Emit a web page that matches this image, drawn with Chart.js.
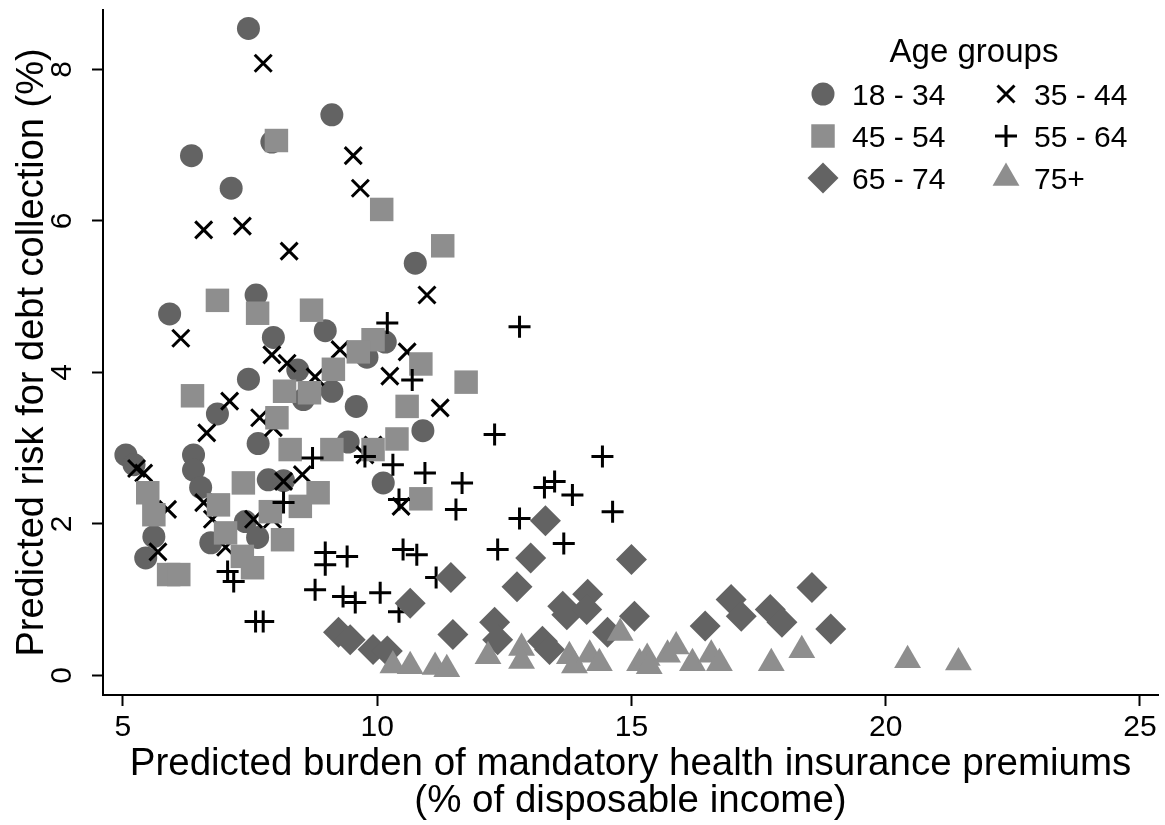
<!DOCTYPE html>
<html>
<head>
<meta charset="utf-8">
<script src="https://cdn.jsdelivr.net/npm/chart.js@4"></script>
<style>
html,body{margin:0;padding:0;background:#fff;}
#wrap{width:1165px;height:825px;}
</style>
</head>
<body>
<div id="wrap"><canvas id="c" width="1165" height="825"></canvas></div>
<script>
// ---- Data (x: premium burden %, y: predicted risk %) ----
const seriesLabels = ['18 - 34', '35 - 44', '45 - 54', '55 - 64', '65 - 74', '75+'];
const xTicks = [5, 10, 15, 20, 25];
const yTicks = [0, 2, 4, 6, 8];

const age18_34 = [
  [7.47,8.54],[9.11,7.40],[6.35,6.86],[7.13,6.43],[7.93,7.04],[10.75,5.44],[5.92,4.77],
  [7.62,5.02],[7.96,4.46],[8.98,4.55],[10.16,4.40],[9.80,4.20],[8.44,4.03],[7.47,3.91],
  [9.11,3.75],[8.55,3.64],[9.59,3.55],[6.86,3.45],[7.66,3.06],[9.43,3.08],[10.90,3.23],
  [5.06,2.91],[5.22,2.78],[6.39,2.91],[6.39,2.71],[6.53,2.48],[7.86,2.58],[8.16,2.57],
  [10.12,2.54],[5.61,1.83],[5.45,1.55],[6.73,1.75],[7.41,2.03],[7.65,1.82]
];
const age35_44 = [
  [7.76,8.08],[9.53,6.86],[9.67,6.43],[6.59,5.88],[7.35,5.93],[8.27,5.60],[10.98,5.02],
  [6.14,4.45],[9.27,4.30],[10.59,4.27],[7.93,4.23],[8.23,4.12],[10.25,3.95],[8.78,3.94],
  [7.10,3.62],[11.24,3.53],[7.69,3.40],[6.65,3.20],[7.96,3.27],[9.92,3.04],[9.76,2.91],
  [8.53,2.65],[8.16,2.56],[5.27,2.73],[5.41,2.67],[6.59,2.28],[5.88,2.19],[7.57,2.06],
  [6.76,2.06],[7.02,1.69],[5.69,1.63],[10.47,2.23],[7.94,2.06]
];
const age45_54 = [
  [8.02,7.06],[10.09,6.15],[11.29,5.67],[6.86,4.95],[7.65,4.78],[8.71,4.82],[9.92,4.43],
  [9.63,4.27],[10.86,4.11],[9.14,4.04],[11.75,3.87],[6.37,3.69],[8.18,3.75],[8.67,3.73],
  [10.59,3.55],[8.03,3.40],[10.39,3.12],[8.29,2.98],[9.11,2.98],[9.92,2.98],[7.37,2.54],
  [5.49,2.41],[5.61,2.12],[6.88,2.25],[7.02,1.88],[7.35,1.57],[7.55,1.42],[5.90,1.33],
  [6.10,1.33],[7.90,2.16],[8.14,1.79],[8.49,2.23],[8.84,2.41],[10.86,2.33]
];
const age55_64 = [
  [10.20,4.65],[12.80,4.60],[10.69,3.90],[12.31,3.18],[8.73,2.87],[9.76,2.89],[10.31,2.78],
  [10.94,2.67],[11.67,2.54],[11.55,2.19],[10.43,2.32],[8.16,2.28],[8.98,1.62],[8.98,1.46],
  [9.41,1.57],[10.51,1.66],[10.78,1.59],[8.78,1.13],[9.33,1.04],[9.57,0.96],[10.06,1.09],
  [10.43,0.84],[11.16,1.29],[12.37,1.66],[12.80,2.07],[13.29,2.48],[13.49,2.56],[13.84,2.38],
  [13.67,1.74],[14.43,2.89],[14.63,2.16],[7.06,1.37],[7.18,1.24],[7.61,0.71],[7.76,0.71]
];
const age65_74 = [
  [9.24,0.57],[9.47,0.47],[9.92,0.34],[10.20,0.32],[10.65,0.95],[11.45,1.29],[11.49,0.54],
  [12.31,0.70],[12.37,0.47],[12.75,1.17],[13.02,1.55],[13.31,2.04],[13.25,0.45],[13.39,0.34],
  [13.65,0.91],[13.73,0.80],[14.14,1.07],[14.12,0.87],[14.53,0.57],[15.00,1.53],[15.06,0.78],
  [16.45,0.65],[16.96,1.00],[17.16,0.78],[17.73,0.87],[17.96,0.70],[18.55,1.16],[18.92,0.61]
];
const age75plus = [
  [10.31,0.13],[10.65,0.12],[11.14,0.11],[11.37,0.08],[12.18,0.25],[12.84,0.36],[12.84,0.19],
  [13.78,0.25],[13.88,0.13],[14.18,0.27],[14.37,0.16],[14.78,0.56],[15.16,0.16],[15.31,0.23],
  [15.35,0.12],[15.71,0.27],[15.88,0.38],[16.20,0.16],[16.57,0.27],[16.73,0.16],[17.75,0.16],
  [18.35,0.33],[20.43,0.20],[21.43,0.17]
];

// ---- Styles ----
const FONT = '"Liberation Sans", Arial, Helvetica, sans-serif';
const DARK = '#636363';
const LIGHT = '#8e8e8e';
const styles = [
  {pointStyle:'circle',   radius:11.5, backgroundColor:DARK,  borderColor:DARK,  borderWidth:0, order:6},
  {pointStyle:'crossRot', radius:12,   backgroundColor:'#000',borderColor:'#000',borderWidth:3, order:5},
  {pointStyle:'rect',     radius:16.6, backgroundColor:LIGHT, borderColor:LIGHT, borderWidth:0, order:4},
  {pointStyle:'cross',    radius:11,   backgroundColor:'#000',borderColor:'#000',borderWidth:3, order:3},
  {pointStyle:'rectRot',  radius:15.5, backgroundColor:DARK,  borderColor:DARK,  borderWidth:0, order:2},
  {pointStyle:'triangle', radius:15.5, backgroundColor:LIGHT, borderColor:LIGHT, borderWidth:0, order:1}
];
const allSeries = [age18_34, age35_44, age45_54, age55_64, age65_74, age75plus];

const datasets = allSeries.map((arr, i) => ({
  label: seriesLabels[i],
  data: arr.map(p => ({x: p[0], y: p[1]})),
  pointStyle: styles[i].pointStyle,
  pointRadius: styles[i].radius,
  pointHoverRadius: styles[i].radius,
  pointBackgroundColor: styles[i].backgroundColor,
  pointBorderColor: styles[i].borderColor,
  pointBorderWidth: styles[i].borderWidth,
  order: styles[i].order,
  showLine: false,
  clip: false
}));

// ---- Custom legend (two columns, inside plot) ----
function marker(ctx, st, x, y) {
  const opts = {pointStyle: st.pointStyle, radius: st.radius, rotation: 0, borderWidth: st.borderWidth};
  ctx.save();
  ctx.fillStyle = st.backgroundColor;
  ctx.strokeStyle = st.borderColor;
  ctx.lineWidth = st.borderWidth;
  if (Chart.helpers && Chart.helpers.drawPoint) {
    Chart.helpers.drawPoint(ctx, opts, x, y);
  } else {
    ctx.beginPath(); ctx.arc(x, y, st.radius, 0, Math.PI*2); ctx.fill();
  }
  ctx.restore();
}
const legendPlugin = {
  id: 'ageLegend',
  afterDatasetsDraw(chart) {
    const ctx = chart.ctx;
    ctx.save();
    ctx.fillStyle = '#000';
    ctx.textBaseline = 'alphabetic';
    ctx.font = '33px ' + FONT;
    ctx.textAlign = 'center';
    ctx.fillText('Age groups', 974, 62);
    ctx.font = '30px ' + FONT;
    ctx.textAlign = 'left';
    const colMarker = [823, 1006];
    const colText = [852, 1034];
    const rowY = [94, 136, 178];
    for (let i = 0; i < 6; i++) {
      const col = i % 2, row = Math.floor(i / 2);
      marker(ctx, styles[i], colMarker[col], rowY[row]);
      ctx.fillStyle = '#000';
      ctx.fillText(seriesLabels[i], colText[col], rowY[row] + 11);
    }
    ctx.restore();
  }
};

new Chart(document.getElementById('c'), {
  type: 'scatter',
  data: {datasets},
  plugins: [legendPlugin],
  options: {
    responsive: false,
    animation: false,
    devicePixelRatio: 1,
    layout: {autoPadding: false, padding: {top: 10, right: 7, left: 0, bottom: 0}},
    plugins: {legend: {display: false}, tooltip: {enabled: false}},
    scales: {
      x: {
        type: 'linear',
        min: 4.61, max: 25.354,
        afterBuildTicks: s => { s.ticks = xTicks.map(v => ({value: v})); },
        afterFit: s => { s.height = 130; s.paddingLeft = 0; s.paddingRight = 0; },
        border: {display: true, color: '#000', width: 2},
        grid: {display: true, drawOnChartArea: false, drawTicks: true, tickLength: 11, tickWidth: 2, tickColor: '#000', color: '#000'},
        ticks: {color: '#000', font: {family: FONT, size: 30, lineHeight: 1.2}, padding: 4, maxRotation: 0, minRotation: 0,
                callback: v => String(v)},
        title: {display: true, color: '#000',
                text: ['Predicted burden of mandatory health insurance premiums', '(% of disposable income)'],
                font: {family: FONT, size: 38.5, lineHeight: 0.94}, padding: {top: 0, bottom: 6}}
      },
      y: {
        type: 'linear',
        min: -0.26, max: 8.783,
        afterBuildTicks: s => { s.ticks = yTicks.map(v => ({value: v})); },
        afterFit: s => { s.width = 103; s.paddingTop = 0; s.paddingBottom = 0; },
        border: {display: true, color: '#000', width: 2},
        grid: {display: true, drawOnChartArea: false, drawTicks: true, tickLength: 11, tickWidth: 2, tickColor: '#000', color: '#000'},
        ticks: {color: '#000', font: {family: FONT, size: 30}, padding: 21, minRotation: 90, maxRotation: 90,
                crossAlign: 'center', callback: v => String(v)},
        title: {display: true, color: '#000', text: 'Predicted risk for debt collection (%)',
                font: {family: FONT, size: 38, lineHeight: 0.95}, padding: {top: 14, bottom: 0}}
      }
    }
  }
});
</script>
</body>
</html>
